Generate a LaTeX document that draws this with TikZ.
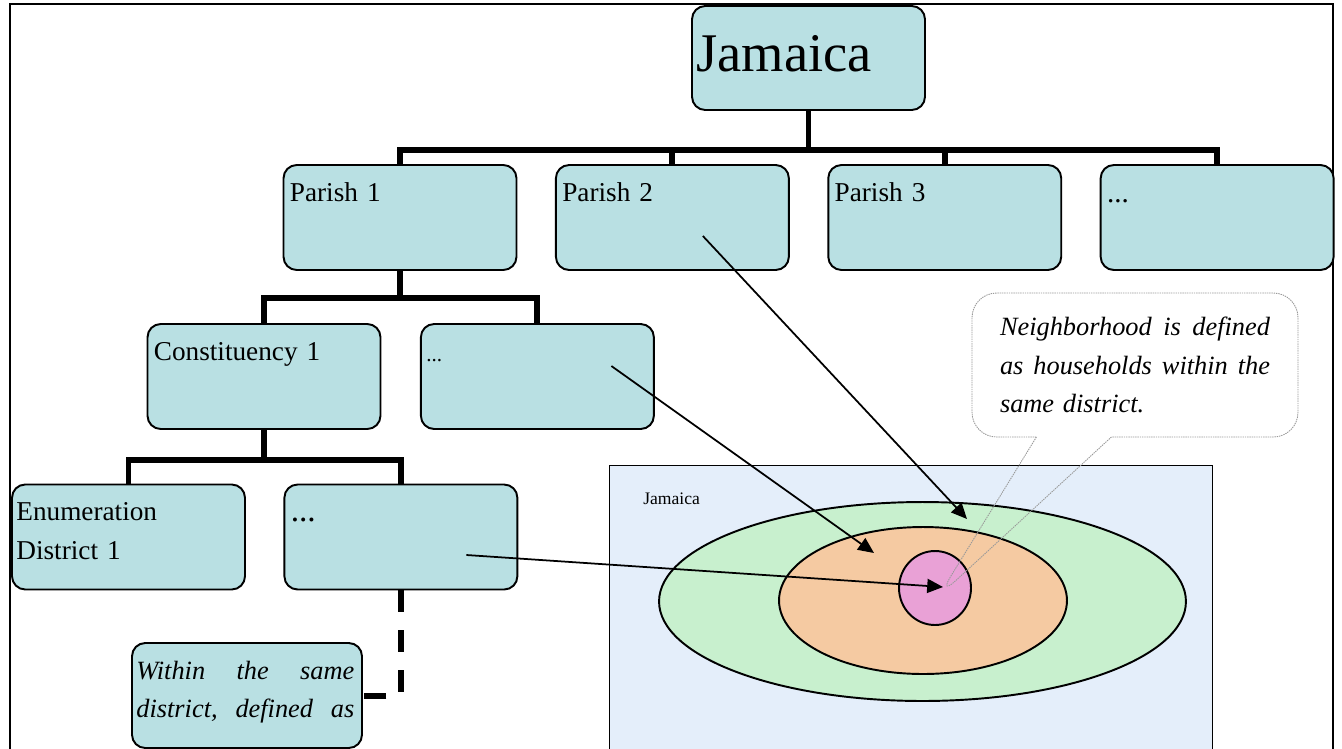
\documentclass[tikz,border=0pt]{standalone}
\usepackage{fontspec}
\setmainfont{Liberation Serif}
\usetikzlibrary{positioning, shapes.geometric, shapes.callouts, arrows.meta}

\definecolor{boxFill}{RGB}{185,224,227}
\definecolor{mapFill}{RGB}{228,238,250}
\definecolor{ringOut}{RGB}{200,240,206}
\definecolor{ringMid}{RGB}{245,202,162}
\definecolor{ringIn}{RGB}{233,161,214}

\begin{document}
\begin{tikzpicture}[x=0.02cm, y=-0.02cm,
              orgBox/.style={
                rounded corners=7.5pt, draw, line width=1.1pt, fill=boxFill,
                minimum width=4.66cm, minimum height=2.1cm, inner sep=0pt
             },
              boxText/.style={anchor=base west, inner sep=0pt, align=left,
                text width=4.4cm, font=\fontsize{15.5}{22}\selectfont},
              noteText/.style={anchor=base west, inner sep=0pt, align=left,
                text width=4.36cm, font=\itshape\fontsize{15}{22}\selectfont},
              treeLine/.style={line width=3.4pt},
              mapArrow/.style={line width=1pt, -{Triangle[length=9pt,width=8pt]}},
              ring/.style={ellipse, draw, line width=1.1pt, inner sep=0pt} ]
              \useasboundingbox (0,0) rectangle (1342,748);
              \clip (0,0) rectangle (1342,748);
              \draw[line width=1.5pt] (10,760) -- (10,4) -- (1333,4) -- (1333,760);

              % tree of areas
              \node[orgBox, minimum height=2.08cm](jam) at (808.5,58){};
              \node[orgBox](p1) at (400,217.5){};
              \node[orgBox, right=0.75cm of p1](p2){};
              \node[orgBox, right=0.75cm of p2](p3){};
              \node[orgBox, right=0.75cm of p3](p4){};
              \node[orgBox](c1) at (264,376.5){};
              \node[orgBox, right=0.77cm of c1](c2){};
              \node[orgBox](e1) at (128.5,537){};
              \node[orgBox, right=0.75cm of e1](e2){};
              \node[orgBox, minimum width=4.6cm](w) at (247,695.5){};

              \node[boxText, font=\fontsize{31}{36}\selectfont](jamT) at ([shift={(5,66)}]jam.north west){Jamaica};
              \node[boxText](p1T) at ([shift={(7,37)}]p1.north west){Parish 1};
              \node[boxText](p2T) at ([shift={(7,37)}]p2.north west){Parish 2};
              \node[boxText](p3T) at ([shift={(7,37)}]p3.north west){Parish 3};
              \node[boxText, font=\fontsize{16.5}{22}\selectfont](p4T) at ([shift={(7,38)}]p4.north west){...};
              \node[boxText](c1T) at ([shift={(7,37)}]c1.north west){Constituency 1};
              \node[boxText, font=\fontsize{12}{22}\selectfont](c2T) at ([shift={(6,38)}]c2.north west){...};
              \node[boxText](e1T) at ([shift={(5,37)}]e1.north west){Enumeration\\District 1};
              \node[boxText, font=\fontsize{19}{22}\selectfont](e2T) at ([shift={(7,38)}]e2.north west){...};
              \node[noteText](wT) at ([shift={(5,37)}]w.north west){Within\hfill the\hfill same\\district,\hfill defined\hfill as};

              \coordinate (bus1) at (808.5,150);
              \coordinate (bus2) at (400,298);
              \coordinate (bus3) at (264,460);
              \draw[treeLine] (jam.south) -- (bus1);
              \foreach \n in {p1,p2,p3,p4}
                \draw[treeLine] (\n.north) |- (bus1);
              \draw[treeLine] (p1.south) -- (bus2);
              \draw[treeLine] (c1.north) |- (bus2);
              \draw[treeLine] (c2.north) |- (bus2);
              \draw[treeLine] (c1.south) -- (bus3);
              \draw[treeLine] (e1.north) |- (bus3);
              \draw[treeLine] (e2.north) |- (bus3);
              \draw[treeLine, dash pattern=on 12.5pt off 10.2pt] (e2.south) |- (w.east);

              % map of Jamaica
              \node[draw, line width=0.8pt, fill=mapFill, anchor=north west,
                minimum width=12.06cm, minimum height=6cm, inner sep=0pt](map) at (609,465){};
              \node[anchor=base west, inner sep=0pt, font=\fontsize{10}{12}\selectfont](mapT) at (643,504){Jamaica};
              \node[ring, fill=ringOut, minimum width=10.54cm, minimum height=3.98cm](outer) at (922.5,601.5){};
              \node[ring, fill=ringMid, minimum width=5.76cm, minimum height=2.94cm](mid) at (923,600.5){};
              \node[ring, fill=ringIn, minimum width=1.44cm, minimum height=1.48cm](inner) at (935,588){};

              \coordinate (tOut) at (967,519);
              \coordinate (tMid) at (874,553);
              \coordinate (tIn) at (943,587);
              \coordinate (nbhd) at (938,597);
              \draw[mapArrow] ([shift={(30.5,18.5)}]p2.center) -- (tOut);
              \draw[mapArrow] ([shift={(74,-10.5)}]c2.center) -- (tMid);
              \draw[mapArrow] ([shift={(65.5,18)}]e2.center) -- (tIn);

              \node[rectangle callout, rounded corners=14pt, draw=gray!80, line width=0.5pt,
                dash pattern=on 0.8pt off 0.5pt,
                minimum width=6.52cm, minimum height=2.88cm, text width=5.4cm, align=left,
                callout absolute pointer=(nbhd), callout pointer width=1.5cm,
                font=\itshape\fontsize{15}{22}\selectfont](note) at (1135,365)
                {Neighborhood\hfill is\hfill defined\\as\hfill households\hfill within\hfill the\\same district.};
            \end{tikzpicture}
\end{document}
